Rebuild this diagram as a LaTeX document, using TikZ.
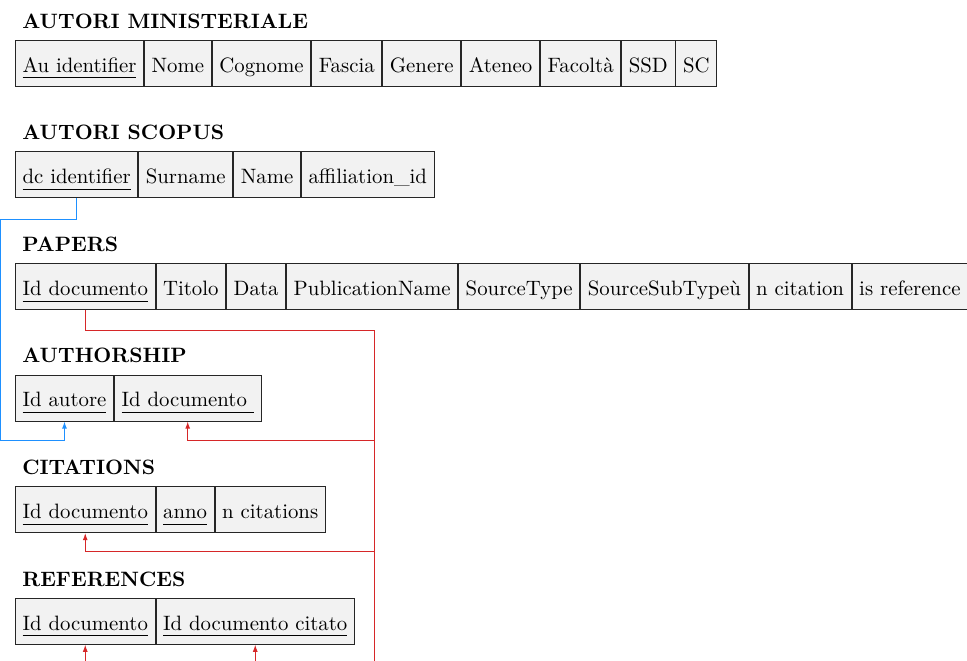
\documentclass[tikz,border=0pt]{standalone}
\usetikzlibrary{positioning,calc,arrows.meta}
\definecolor{fkred}{RGB}{214,39,40}
\definecolor{fkblue}{RGB}{30,144,255}
\newcommand\chiave[1]{\setbox0\hbox{#1}\rlap{\vrule height -2.5pt depth 2.9pt width \wd0}\box0}
\tikzset{
  campo/.style={draw=black!85, fill=black!5, inner xsep=3.45pt, inner ysep=3.33pt, text height=12pt, text depth=3.4pt},
  tabella/.style={font=\bfseries, inner sep=3.33pt},
  fk/.style={line width=.6pt, -{Latex[length=3.5pt,width=2.4pt]}},
}
\begin{document}
\begin{tikzpicture}
\clip (0,0) rectangle (465pt,-317.8pt);
% AUTORI MINISTERIALE
\node[campo, anchor=north west] (am1) at (7.2pt,-19.2pt) {\chiave{Au identifier}};
\node[campo, right=0pt of am1] (am2) {Nome};
\node[campo, right=0pt of am2] (am3) {Cognome};
\node[campo, right=0pt of am3] (am4) {Fascia};
\node[campo, right=0pt of am4] (am5) {Genere};
\node[campo, right=0pt of am5] (am6) {Ateneo};
\node[campo, right=0pt of am6] (am7) {Facoltà};
\node[campo, right=0pt of am7] (am8) {SSD};
\node[campo, right=0pt of am8] (am9) {SC};
\node[tabella, above right=2pt and 0pt of am1.north west] (tam) {AUTORI MINISTERIALE};
% AUTORI SCOPUS
\node[campo, anchor=north west] (sc1) at (7.2pt,-72.85pt) {\chiave{dc identifier}};
\node[campo, right=0pt of sc1] (sc2) {Surname};
\node[campo, right=0pt of sc2] (sc3) {Name};
\node[campo, right=0pt of sc3] (sc4) {affiliation\_id};
\node[tabella, above right=2pt and 0pt of sc1.north west] (tsc) {AUTORI SCOPUS};
% PAPERS
\node[campo, anchor=north west] (pa1) at (7.2pt,-126.5pt) {\chiave{Id documento}};
\node[campo, right=0pt of pa1] (pa2) {Titolo};
\node[campo, right=0pt of pa2] (pa3) {Data};
\node[campo, right=0pt of pa3] (pa4) {PublicationName};
\node[campo, right=0pt of pa4] (pa5) {SourceType};
\node[campo, right=0pt of pa5] (pa6) {SourceSubTypeù};
\node[campo, right=0pt of pa6] (pa7) {n citation};
\node[campo, right=0pt of pa7] (pa8) {is reference};
\node[tabella, above right=2pt and 0pt of pa1.north west] (tpa) {PAPERS};
% AUTHORSHIP
\node[campo, anchor=north west] (au1) at (7.2pt,-180.15pt) {\chiave{Id autore}};
\node[campo, right=0pt of au1] (au2) {\chiave{Id documento\ }};
\node[tabella, above right=2pt and 0pt of au1.north west] (tau) {AUTHORSHIP};
% CITATIONS
\node[campo, anchor=north west] (ci1) at (7.2pt,-233.8pt) {\chiave{Id documento}};
\node[campo, right=0pt of ci1] (ci2) {\chiave{anno}};
\node[campo, right=0pt of ci2] (ci3) {n citations};
\node[tabella, above right=2pt and 0pt of ci1.north west] (tci) {CITATIONS};
% REFERENCES
\node[campo, anchor=north west] (re1) at (7.2pt,-287.45pt) {\chiave{Id documento}};
\node[campo, right=0pt of re1] (re2) {\chiave{Id documento citato}};
\node[tabella, above right=2pt and 0pt of re1.north west] (tre) {REFERENCES};
% chiavi esterne
\coordinate (sx) at (0.3pt,0);
\coordinate (rx) at (180.08pt,-325pt);
\coordinate (ry) at ($(pa1.south)+(0,-9.8pt)$);
\draw[fk, fkblue] (sc1.south) -- ++(0,-10.1pt) -| ($(sx |- au1.south)+(0,-9.05pt)$) -| (au1.south);
\draw[draw=fkred, line width=.6pt] (pa1.south) -- (ry) -- (rx |- ry) -- (rx);
\draw[fk, fkred] ($(rx |- au2.south)+(0,-9.05pt)$) -| (au2.south);
\draw[fk, fkred] ($(rx |- ci1.south)+(0,-8.8pt)$) -| (ci1.south);
\draw[fk, fkred] ($(rx |- re1.south)+(0,-10pt)$) -| (re1.south);
\draw[fk, fkred] ($(rx |- re2.south)+(0,-10pt)$) -| (re2.south);
\end{tikzpicture}
\end{document}
